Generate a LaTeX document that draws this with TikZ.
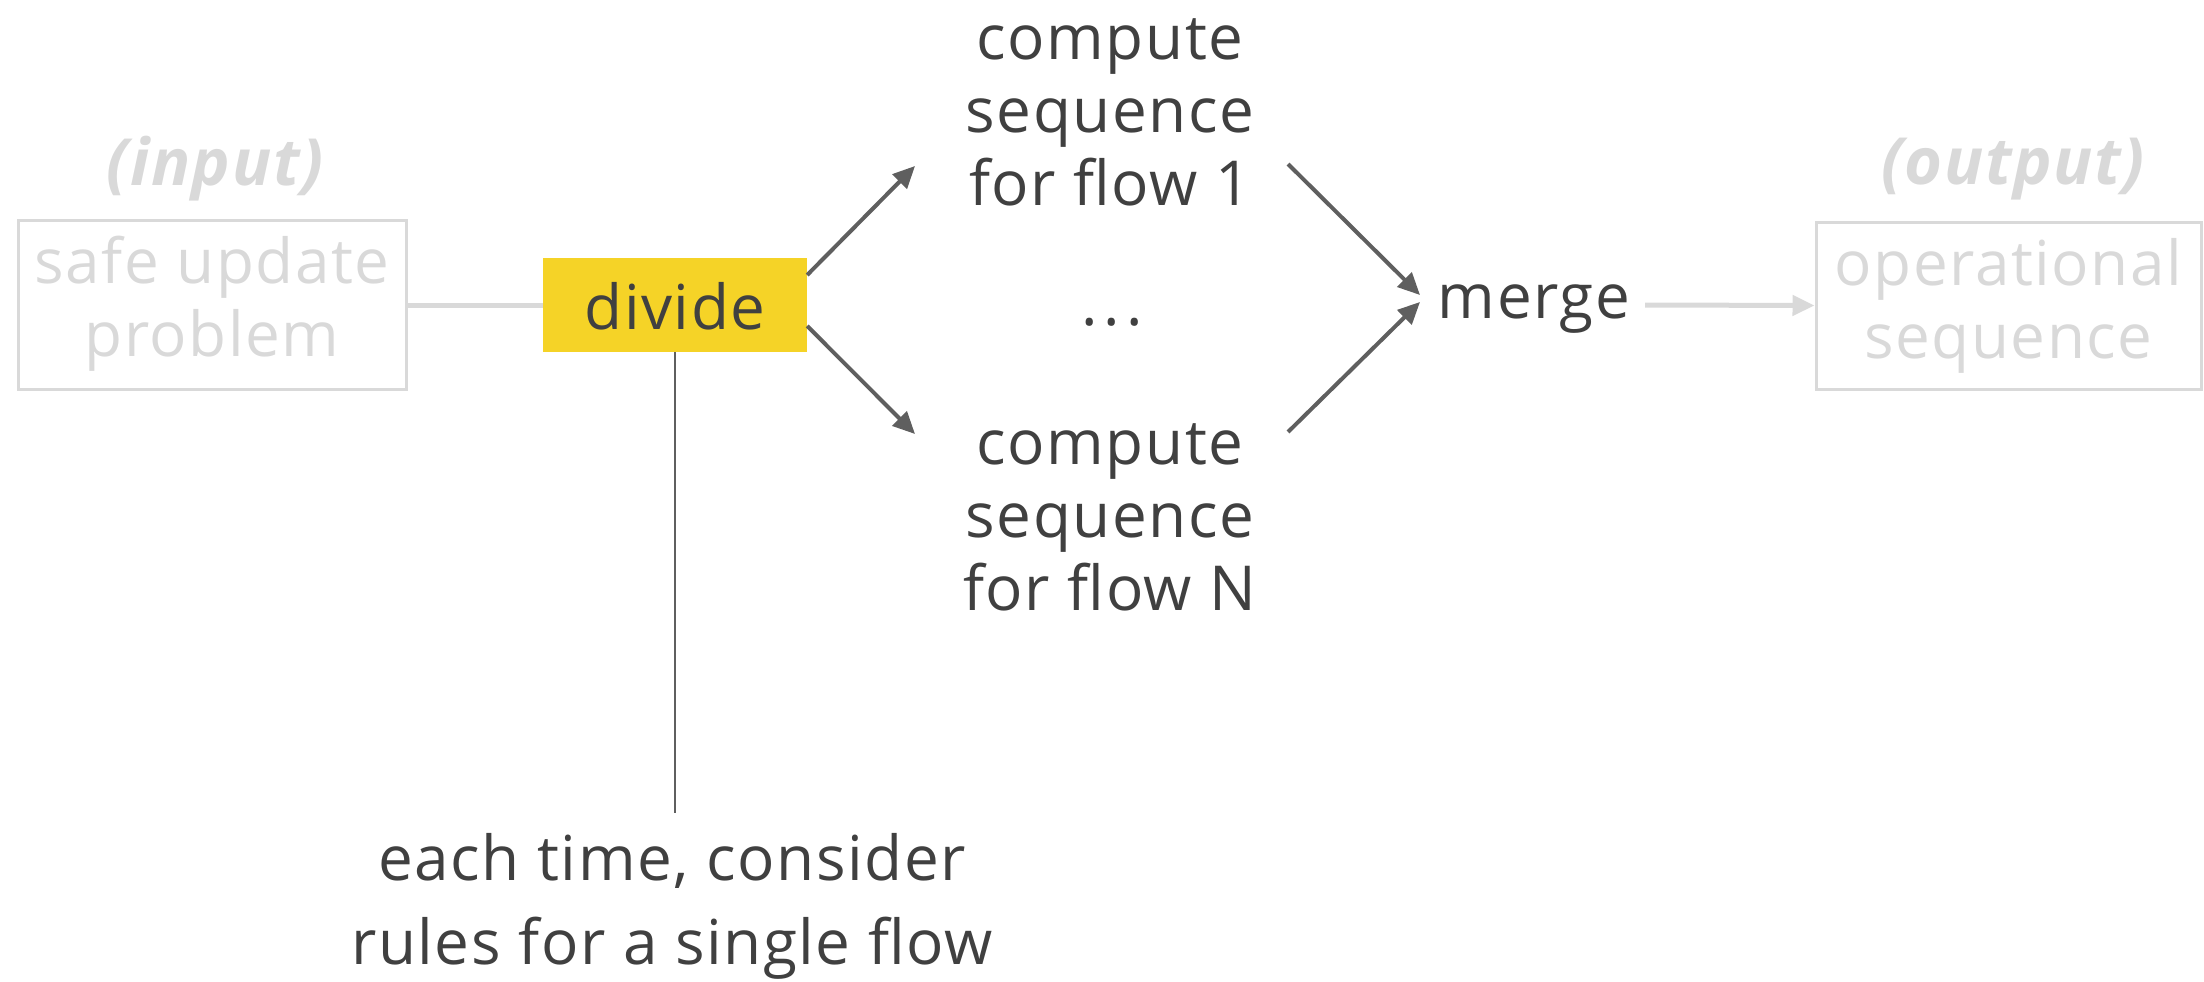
\documentclass[tikz,border=0pt]{standalone}
\usepackage{fontspec}
\setmainfont{Open Sans}[LetterSpace=2.5]
\usetikzlibrary{arrows.meta}
\definecolor{darktxt}{HTML}{404040}
\definecolor{lighttxt}{HTML}{D9D9D9}
\definecolor{arrowgray}{HTML}{5F5F5F}
\definecolor{divyellow}{HTML}{F5D327}
\begin{document}
\begin{tikzpicture}[x=1pt,y=-1pt,
  txt/.style={font=\fontsize{62}{73}\selectfont, align=center, inner sep=0pt, text=darktxt},
  ghost/.style={txt, text=lighttxt},
  ghostbox/.style={draw=lighttxt, line width=3pt, inner sep=0pt},
  lbl/.style={font=\fontsize{65}{73}\selectfont\bfseries\itshape, inner sep=0pt, text=lighttxt},
  conn/.style={draw=arrowgray, line width=4pt, -{Triangle[length=22pt,width=20pt]}},
  lightconn/.style={draw=lighttxt, line width=5pt},
]
\useasboundingbox (0,0) rectangle (2204,982);
\node[lbl] (inlbl) at (215,169) {(input)};
\node[ghostbox, minimum width=388pt, minimum height=169pt] (inbox) at (212,305) {};
\node[ghost] (intext) at (212,303.5) {safe update\\problem};
\node[fill=divyellow, minimum width=264pt, minimum height=94pt, inner sep=0pt] (divide) at (675,305) {};
\node[txt] (dividetxt) at (675,306) {divide};
\node[txt] (c1) at (1110,112) {compute\\sequence\\for flow 1};
\node[txt] (dots) at (1112,322) {.\hspace{6pt}.\hspace{6pt}.};
\node[txt] (cN) at (1110,517) {compute\\sequence\\for flow N};
\node[txt] (merge) at (1534,309) {merge};
\node[ghostbox, minimum width=385pt, minimum height=167pt] (outbox) at (2008.5,305.5) {};
\node[ghost] (outtext) at (2008.5,305.5) {operational\\sequence};
\node[lbl] (outlbl) at (2013,169) {(output)};
\node[txt, font=\fontsize{62}{84}\selectfont] (note) at (672,906) {each time, consider\\rules for a single flow};

\draw[lightconn] (inbox.east) -- (divide.west);
\draw[draw=arrowgray, line width=2.5pt] (divide.south) -- ([yshift=-461pt]divide.south) coordinate (noteend);
\draw[conn] ([yshift=30pt]divide.east) -- ([xshift=-195pt,yshift=-54pt]c1.center);
\draw[conn] ([yshift=-21pt]divide.east) -- ([xshift=-195pt,yshift=83pt]cN.center);
\draw[conn] ([xshift=178pt,yshift=-52pt]c1.center) -- ([xshift=-114pt,yshift=14pt]merge.center);
\draw[conn] ([xshift=178pt,yshift=85pt]cN.center) -- ([xshift=-114pt,yshift=7pt]merge.center);
\draw[lightconn, -{Triangle[length=22pt,width=20pt]}] ([xshift=111pt,yshift=4pt]merge.center) -- (outbox.west);
\end{tikzpicture}
\end{document}
